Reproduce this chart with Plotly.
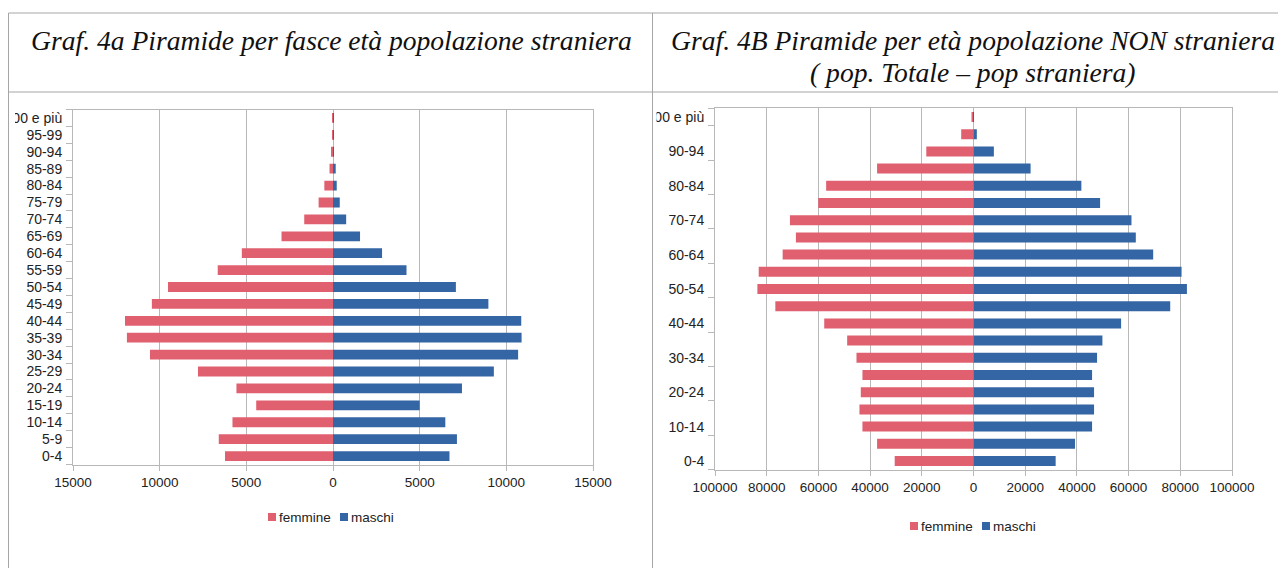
import plotly.graph_objects as go

# the page body has an 8px margin: the figure starts at (8, 8) in the window
OFF = 8
W, H = 1286 - OFF, 568 - OFF

ages = ["0-4", "5-9", "10-14", "15-19", "20-24", "25-29", "30-34", "35-39", "40-44",
        "45-49", "50-54", "55-59", "60-64", "65-69", "70-74", "75-79", "80-84",
        "85-89", "90-94", "95-99", "100 e più"]

# Graf. 4a - popolazione straniera
stran_femmine = [6230, 6590, 5800, 4430, 5570, 7790, 10560, 11890, 12000, 10450, 9520,
                 6650, 5260, 2970, 1660, 830, 500, 200, 100, 20, 10]
stran_maschi = [6720, 7150, 6480, 5000, 7440, 9280, 10680, 10880, 10860, 8965, 7090,
                4240, 2830, 1560, 760, 390, 215, 156, 50, 10, 30]

# Graf. 4B - popolazione NON straniera
non_femmine = [30480, 37300, 42960, 44120, 43600, 42960, 45270, 48870, 57750, 76660, 83600,
               83090, 73830, 68700, 71000, 60060, 57000, 37300, 18260, 4760, 770]
non_maschi = [31780, 39280, 45870, 46640, 46640, 45870, 47800, 49870, 57100, 76100, 82560,
              80490, 69510, 62790, 61110, 48970, 41730, 22090, 7880, 1290, 150]

series_names = ["femmine", "maschi"]

left_ticks = [-15000, -10000, -5000, 0, 5000, 10000, 15000]
left_ticktext = ["15000", "10000", "5000", "0", "5000", "10000", "15000"]
right_ticks = [-100000, -80000, -60000, -40000, -20000, 0, 20000, 40000, 60000, 80000, 100000]
right_ticktext = ["100000", "80000", "60000", "40000", "20000", "0",
                  "20000", "40000", "60000", "80000", "100000"]
right_ylabels = ["0-4", "10-14", "20-24", "30-34", "40-44", "50-54", "60-64",
                 "70-74", "80-84", "90-94", "100 e più"]

title_left = "Graf. 4a Piramide per fasce età popolazione straniera"
title_right_1 = "Graf. 4B Piramide per età popolazione NON straniera"
title_right_2 = "( pop. Totale – pop straniera)"

PINK = "#e0606f"
BLUE = "#3465a4"
GRID = "#b8b8b8"
BORDER = "#a6a6a6"
FONT = "Liberation Sans, Arial, sans-serif"
TXT = "#222222"


def px_x(v):
    return (v - OFF) / W


def px_y(v):
    return 1 - (v - OFF) / H


fig = go.Figure()

fig.add_trace(go.Bar(y=ages, x=[-v for v in stran_femmine], orientation="h", name=series_names[0],
                     marker=dict(color=PINK, line=dict(width=0)), xaxis="x", yaxis="y",
                     showlegend=False))
fig.add_trace(go.Bar(y=ages, x=stran_maschi, orientation="h", name=series_names[1],
                     marker=dict(color=BLUE, line=dict(width=0)), xaxis="x", yaxis="y",
                     showlegend=False))
fig.add_trace(go.Bar(y=ages, x=[-v for v in non_femmine], orientation="h", name=series_names[0],
                     marker=dict(color=PINK, line=dict(width=0)), xaxis="x2", yaxis="y2",
                     showlegend=False))
fig.add_trace(go.Bar(y=ages, x=non_maschi, orientation="h", name=series_names[1],
                     marker=dict(color=BLUE, line=dict(width=0)), xaxis="x2", yaxis="y2",
                     showlegend=False))

axis_common = dict(showline=True, linecolor=GRID, linewidth=1, mirror=True,
                   zeroline=False, fixedrange=True, automargin=False)
xfont = dict(family=FONT, size=13.5, color=TXT)
yfont = dict(family=FONT, size=14, color=TXT)

fig.update_layout(
    width=W, height=H,
    margin=dict(l=0, r=0, t=0, b=0, autoexpand=False),
    paper_bgcolor="white", plot_bgcolor="white",
    barmode="relative", bargap=0.42,
    font=dict(family=FONT, size=13.5, color=TXT),
    showlegend=False,
    xaxis=dict(domain=[px_x(73), px_x(593)], range=[-15000, 15000],
               tickvals=left_ticks, ticktext=left_ticktext, tickfont=xfont,
               showgrid=True, gridcolor=GRID, gridwidth=1,
               ticks="outside", ticklen=5, tickcolor=GRID, anchor="y", **axis_common),
    yaxis=dict(domain=[px_y(464.5), px_y(109.5)], type="category",
               categoryorder="array", categoryarray=ages, tickfont=yfont,
               tickmode="array", tickvals=ages, ticktext=ages,
               showgrid=False, ticks="outside", tickson="boundaries", ticklen=6,
               ticklabelstandoff=7, tickcolor=GRID, anchor="x", **axis_common),
    xaxis2=dict(domain=[px_x(715), px_x(1232)], range=[-100000, 100000],
                tickvals=right_ticks, ticktext=right_ticktext, tickfont=xfont,
                showgrid=True, gridcolor=GRID, gridwidth=1,
                ticks="outside", ticklen=5, tickcolor=GRID, anchor="y2", **axis_common),
    yaxis2=dict(domain=[px_y(469.6), px_y(108.4)], type="category",
                categoryorder="array", categoryarray=ages, tickfont=yfont,
                tickmode="array", tickvals=right_ylabels, ticktext=right_ylabels,
                showgrid=False, ticks="outside", tickson="boundaries", ticklen=6,
                ticklabelstandoff=7, tickcolor=GRID, anchor="x2", **axis_common),
)

shapes = []
# clipping of the top label at the chart image edges (drawn before the borders)
shapes.append(dict(type="rect", xref="paper", yref="paper", x0=px_x(0), x1=px_x(15), y0=px_y(128),
                   y1=px_y(106), fillcolor="white", line=dict(width=0), layer="above"))
shapes.append(dict(type="rect", xref="paper", yref="paper", x0=px_x(640), x1=px_x(656.5), y0=px_y(128),
                   y1=px_y(106), fillcolor="white", line=dict(width=0), layer="above"))
# table borders
line = dict(color=BORDER, width=1)
shapes.append(dict(type="line", xref="paper", yref="paper", x0=px_x(8.5), x1=1, y0=px_y(13), y1=px_y(13), line=line))
shapes.append(dict(type="line", xref="paper", yref="paper", x0=px_x(8.5), x1=1, y0=px_y(92), y1=px_y(92), line=line))
shapes.append(dict(type="line", xref="paper", yref="paper", x0=px_x(8.5), x1=px_x(8.5), y0=px_y(13), y1=0, line=line))
shapes.append(dict(type="line", xref="paper", yref="paper", x0=px_x(652.5), x1=px_x(652.5), y0=px_y(13), y1=0, line=line))


# legends (square + label), one per chart
def add_legend(x_start, y_center, gap_between):
    x = x_start
    for name, col in zip(series_names, [PINK, BLUE]):
        shapes.append(dict(type="rect", xref="paper", yref="paper",
                           x0=px_x(x), x1=px_x(x + 8), y0=px_y(y_center + 4), y1=px_y(y_center - 4),
                           fillcolor=col, line=dict(width=0)))
        fig.add_annotation(text=name, xref="paper", yref="paper", x=px_x(x + 9), y=px_y(y_center),
                           xanchor="left", yanchor="middle", showarrow=False,
                           font=dict(family=FONT, size=13.5, color=TXT))
        x += gap_between


add_legend(268, 517, 72)
add_legend(910, 526, 72)

fig.update_layout(shapes=shapes)

title_font = dict(family="Liberation Serif, Times New Roman, serif", size=27.6, color="#111111",
                  style="italic")
fig.add_annotation(text=title_left, xref="paper", yref="paper", x=px_x(331), y=px_y(40),
                   xanchor="center", yanchor="middle", showarrow=False, font=title_font)
fig.add_annotation(text=title_right_1, xref="paper", yref="paper", x=px_x(973), y=px_y(40),
                   xanchor="center", yanchor="middle", showarrow=False, font=title_font)
fig.add_annotation(text=title_right_2, xref="paper", yref="paper", x=px_x(973), y=px_y(72),
                   xanchor="center", yanchor="middle", showarrow=False, font=title_font)

fig.write_html("out.html")
